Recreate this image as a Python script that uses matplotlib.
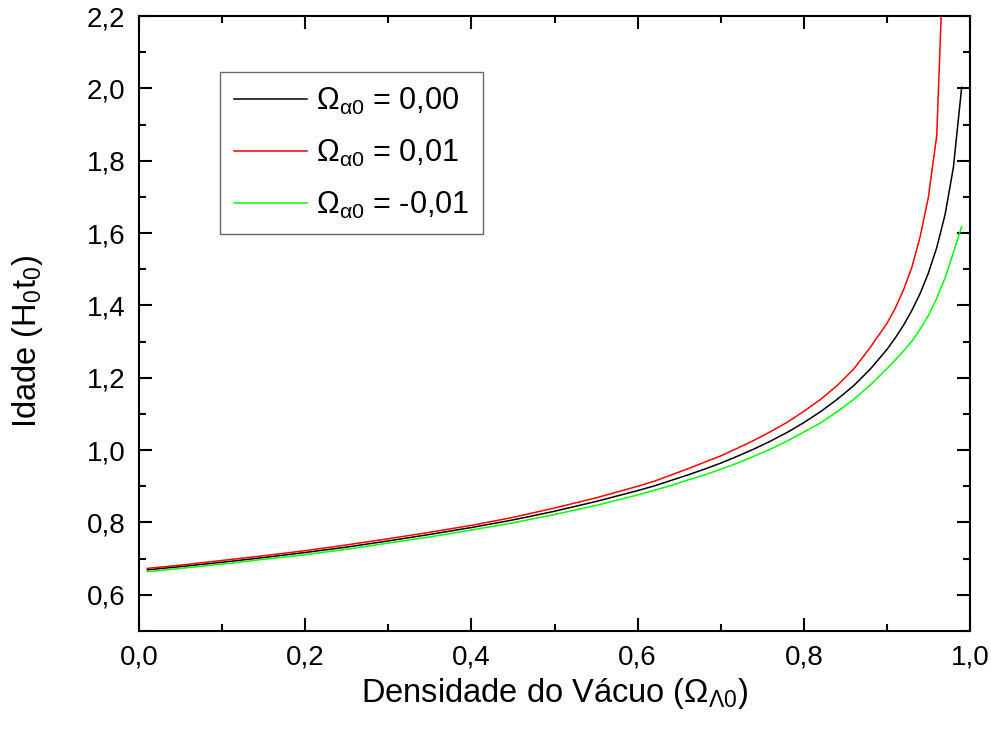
import matplotlib
matplotlib.use("Agg")
import matplotlib.pyplot as plt
from matplotlib.ticker import MultipleLocator, FuncFormatter

plt.rcParams["font.family"] = ["Liberation Sans", "DejaVu Sans"]
plt.rcParams["mathtext.fontset"] = "custom"
plt.rcParams["mathtext.rm"] = "Liberation Sans"
plt.rcParams["mathtext.it"] = "Liberation Sans:italic"

# densidade do vacuo (eixo x)
omega_lambda = [0.01, 0.05, 0.10, 0.15, 0.20, 0.25, 0.30, 0.35, 0.40, 0.45,
                0.50, 0.55, 0.60, 0.62, 0.64, 0.66, 0.68, 0.70, 0.72, 0.74,
                0.76, 0.78, 0.80, 0.82, 0.84, 0.86, 0.88, 0.90, 0.91, 0.92,
                0.93, 0.94, 0.95, 0.96, 0.97, 0.98, 0.99]

# idade H0 t0
idade_000 = [0.669, 0.678, 0.690, 0.703, 0.717, 0.732, 0.749, 0.767, 0.786, 0.807,
             0.831, 0.858, 0.888, 0.901, 0.916, 0.931, 0.947, 0.964, 0.983, 1.003,
             1.025, 1.049, 1.076, 1.106, 1.140, 1.178, 1.224, 1.278, 1.310, 1.345,
             1.386, 1.433, 1.490, 1.560, 1.651, 1.781, 2.003]
idade_001 = [0.673, 0.682, 0.695, 0.708, 0.722, 0.738, 0.755, 0.773, 0.792, 0.814,
             0.840, 0.868, 0.900, 0.914, 0.931, 0.948, 0.966, 0.984, 1.005, 1.027,
             1.051, 1.077, 1.107, 1.140, 1.178, 1.224, 1.284, 1.350, 1.392, 1.443,
             1.505, 1.590, 1.700, 1.870, 2.490]
idade_m001 = [0.664, 0.673, 0.685, 0.698, 0.711, 0.726, 0.743, 0.760, 0.779, 0.799,
              0.822, 0.847, 0.876, 0.889, 0.902, 0.917, 0.931, 0.947, 0.964, 0.983,
              1.003, 1.025, 1.050, 1.075, 1.106, 1.140, 1.180, 1.225, 1.249, 1.274,
              1.301, 1.334, 1.372, 1.420, 1.476, 1.546, 1.618]

labels = [r"$\mathregular{\Omega_{\alpha0}}$ = 0,00",
          r"$\mathregular{\Omega_{\alpha0}}$ = 0,01",
          r"$\mathregular{\Omega_{\alpha0}}$ = -0,01"]
colors = ["black", "red", "#00ff00"]


def virgula(x, pos):
    return ("%.1f" % x).replace(".", ",")


fig = plt.figure(figsize=(9.91, 7.38), dpi=100)
ax = fig.add_axes([0.1403, 0.145, 0.8385, 0.8333])

series = [idade_000, idade_001, idade_m001]
for ys, col, lab in zip(series, colors, labels):
    ax.plot(omega_lambda[:len(ys)], ys, color=col, lw=1.1, label=lab)

ax.set(xlim=[0.0, 1.0], ylim=[0.5, 2.2])
ax.xaxis.set_major_locator(MultipleLocator(0.2))
ax.xaxis.set_minor_locator(MultipleLocator(0.1))
ax.yaxis.set_minor_locator(MultipleLocator(0.1))
ax.set_yticks([0.6, 0.8, 1.0, 1.2, 1.4, 1.6, 1.8, 2.0, 2.2])
ax.xaxis.set_major_formatter(FuncFormatter(virgula))
ax.yaxis.set_major_formatter(FuncFormatter(virgula))

ax.tick_params(which="both", direction="in", top=True, right=True,
               width=1.5, labelsize=20)
ax.tick_params(which="major", length=9.5, pad=10)
ax.tick_params(which="minor", length=5)
for sp in ax.spines.values():
    sp.set_linewidth(1.5)

ax.set_xlabel(r"Densidade do Vácuo ($\mathregular{\Omega_{\Lambda0}}$)",
              fontsize=23.5, labelpad=4)
ax.set_ylabel(r"Idade (H$_0$t$_0$)", fontsize=23.5)
ax.yaxis.set_label_coords(-0.113, 0.47)

leg = ax.legend(loc="upper left", bbox_to_anchor=(0.0975, 0.909),
                borderaxespad=0, fontsize=22, fancybox=False,
                edgecolor="#444444", handlelength=2.4, handletextpad=0.3,
                labelspacing=0.68, borderpad=0.45)
leg.get_frame().set_linewidth(1.0)

fig.savefig("out.png", dpi=100)
